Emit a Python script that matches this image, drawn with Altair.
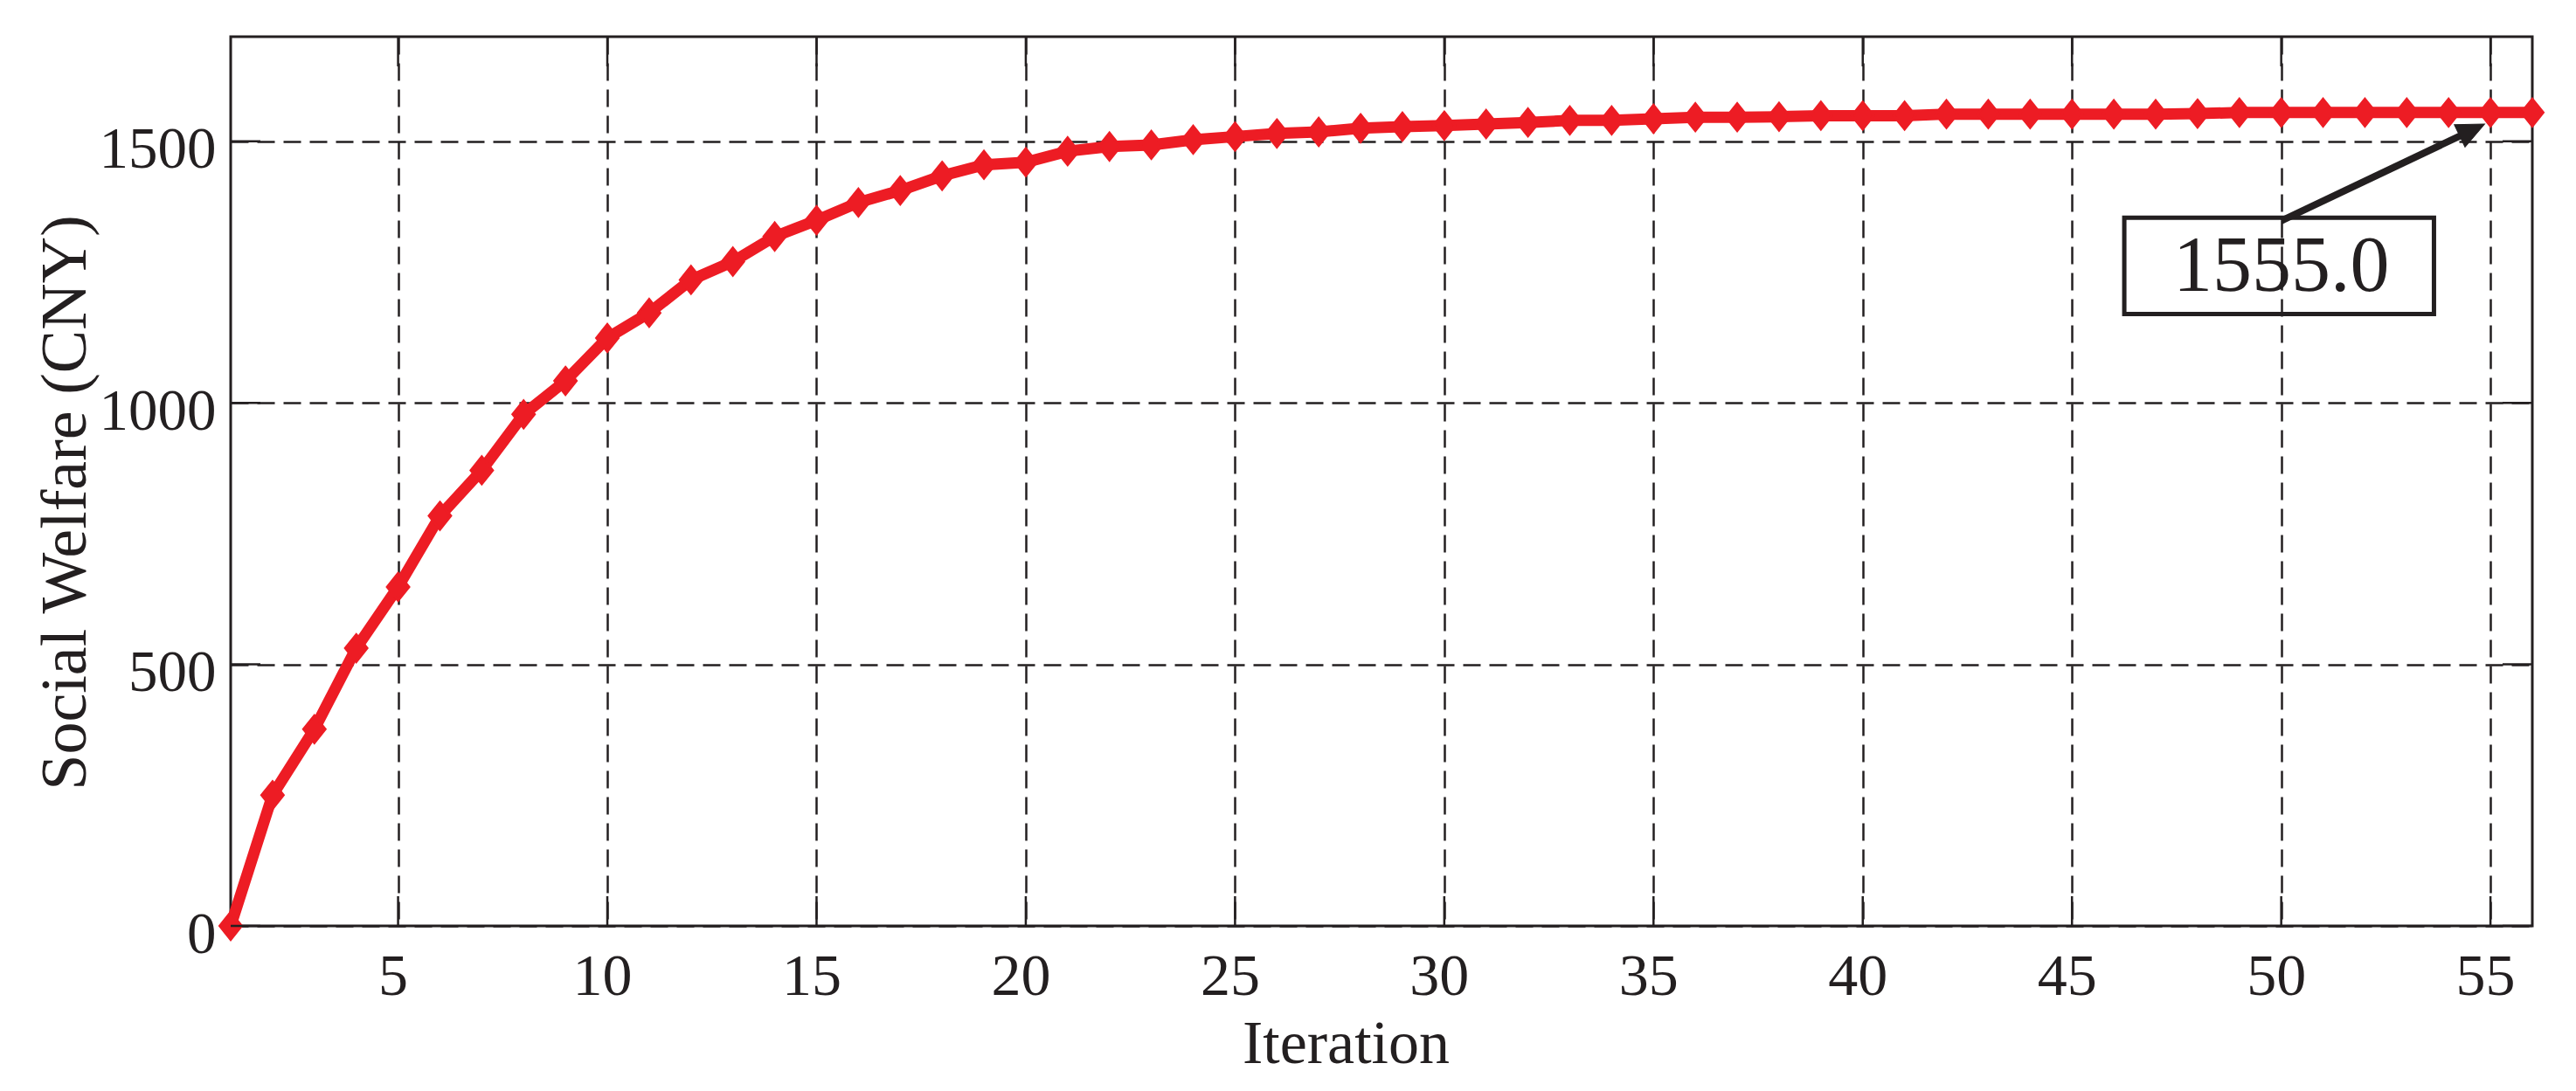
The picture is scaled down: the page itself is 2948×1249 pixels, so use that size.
import altair as alt
import pandas as pd

# ---------------- data ----------------
iterations = list(range(1, 57))
welfare = [0, 250, 376, 531, 648, 784, 871, 978, 1042, 1124,
           1172, 1235, 1270, 1318, 1349, 1383, 1406, 1434, 1455, 1460,
           1481, 1490, 1493, 1503, 1509, 1515, 1518, 1525, 1528, 1530,
           1533, 1536, 1540, 1540, 1543, 1546, 1546, 1547, 1549, 1549,
           1549, 1552, 1552, 1552, 1552, 1552, 1552, 1553, 1555, 1555,
           1555, 1555, 1555, 1555, 1555, 1555]

x_tick_values = [5, 10, 15, 20, 25, 30, 35, 40, 45, 50, 55]
y_tick_values = [0, 500, 1000, 1500]
x_domain = [1, 56]
y_domain = [0, 1700]

# annotation (callout box with arrow pointing at iteration 55)
note_text = ["1555.0"]
note_x = [50]
note_y = [1214]
box_x, box_x2 = [46.25], [53.65]
box_y, box_y2 = [1170], [1354]
arrow_x, arrow_y = [50], [1348]
arrow_x2, arrow_y2 = [54.58], [1522]
head_x, head_y = [54.86], [1533]
head_angle = 334.5

# ---------------- style ----------------
RED = "#ED1C24"
INK = "#231F20"
FONT = "Liberation Serif"
W, H = 2634, 1018
TICK = 34

xs = alt.Scale(domain=x_domain, nice=False, zero=False)
ys = alt.Scale(domain=y_domain, nice=False, zero=False)

x_axis = alt.Axis(
    values=x_tick_values, title="Iteration", grid=True, gridDash=[20, 10],
    gridColor=INK, gridWidth=2.5, gridOpacity=1, ticks=False, tickSize=0,
    domain=False, format="d", labelFont=FONT, labelFontSize=68, labelColor=INK,
    labelPadding=78, labelBaseline="alphabetic", labelAlign="center",
    labelOffset=-6, labelFlush=False, labelOverlap=False,
    titleFont=FONT, titleFontSize=70, titleFontWeight="normal", titleColor=INK,
    titleX=1276, titleY=156, titleAlign="center", titleBaseline="alphabetic",
)
y_axis = alt.Axis(
    values=y_tick_values, title="Social Welfare (CNY)", grid=True,
    gridDash=[20, 10], gridColor=INK, gridWidth=2.5, gridOpacity=1,
    ticks=False, tickSize=0, domain=False, format="d", labelFont=FONT,
    labelFontSize=67, labelColor=INK, labelPadding=17, labelBaseline="middle",
    labelAlign="right", labelOffset=10, labelFlush=False, labelOverlap=False,
    titleFont=FONT, titleFontSize=74, titleFontWeight="normal", titleColor=INK,
    titleAngle=270, titleX=-167, titleY=533, titleAlign="center",
    titleBaseline="alphabetic",
)


def X(field="x"):
    return alt.X(f"{field}:Q", scale=xs, axis=x_axis)


def Y(field="y"):
    return alt.Y(f"{field}:Q", scale=ys, axis=y_axis)


df = pd.DataFrame({"x": iterations, "y": welfare})

line = alt.Chart(df).mark_line(color=RED, strokeWidth=13).encode(x=X(), y=Y())

points = alt.Chart(df).mark_point(
    shape="M0,-1L0.8,0L0,1L-0.8,0Z", filled=True, fill=RED, stroke=RED,
    strokeWidth=3, size=960, opacity=1,
).encode(x=X(), y=Y())

xt = pd.DataFrame({"x": x_tick_values})
yt = pd.DataFrame({"y": y_tick_values})

ticks_bottom = alt.Chart(xt).mark_rule(color=INK, strokeWidth=2.5).encode(
    x=X(), y=alt.value(H), y2=alt.value(H - TICK))
ticks_top = alt.Chart(xt).mark_rule(color=INK, strokeWidth=2.5).encode(
    x=X(), y=alt.value(0), y2=alt.value(TICK))
ticks_left = alt.Chart(yt).mark_rule(color=INK, strokeWidth=2.5).encode(
    y=Y(), x=alt.value(0), x2=alt.value(TICK))
ticks_right = alt.Chart(yt).mark_rule(color=INK, strokeWidth=2.5).encode(
    y=Y(), x=alt.value(W), x2=alt.value(W - TICK))

box = alt.Chart(pd.DataFrame({"x": box_x, "x2": box_x2, "y": box_y, "y2": box_y2})).mark_rect(
    fillOpacity=0, stroke=INK, strokeWidth=5).encode(
    x=X(), x2="x2:Q", y=Y(), y2="y2:Q")

label = alt.Chart(pd.DataFrame({"x": note_x, "y": note_y, "t": note_text})).mark_text(
    font=FONT, fontSize=90, color=INK, baseline="alphabetic", align="center").encode(
    x=X(), y=Y(), text="t:N")

shaft = alt.Chart(pd.DataFrame({"x": arrow_x, "y": arrow_y, "x2": arrow_x2, "y2": arrow_y2})).mark_rule(
    color=INK, strokeWidth=8).encode(
    x=X(), x2="x2:Q", y=Y(), y2="y2:Q")

head = alt.Chart(pd.DataFrame({"x": head_x, "y": head_y})).mark_point(
    shape="M0,0L-2,-0.9L-2,0.9Z", filled=True, fill=INK, stroke=INK,
    strokeWidth=1, size=1000, angle=head_angle, opacity=1).encode(x=X(), y=Y())

chart = alt.layer(
    line, points, ticks_bottom, ticks_top, ticks_left, ticks_right,
    box, label, shaft, head,
).properties(
    width=W, height=H,
    autosize=alt.AutoSizeParams(type="none"),
    padding={"left": 256, "top": 34, "right": 20, "bottom": 178},
).configure_view(stroke=INK, strokeWidth=3)

chart.save("out.html", embed_options={"renderer": "svg", "actions": False})
